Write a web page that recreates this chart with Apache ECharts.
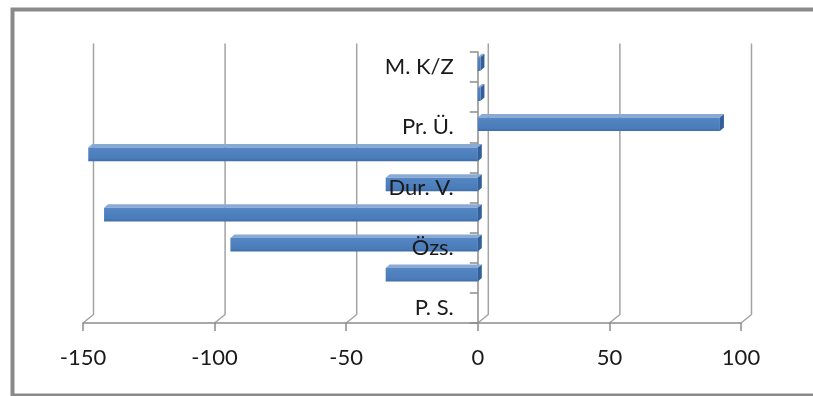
<!DOCTYPE html>
<html>
<head>
<meta charset="utf-8">
<script src="https://cdn.jsdelivr.net/npm/echarts@6/dist/echarts.min.js"></script>
<style>
  html, body { margin: 0; padding: 0; background: #ffffff; }
  #chart { width: 813px; height: 396px; }
</style>
</head>
<body>
<div id="chart"></div>
<script>
// Category names (bottom to top); only every second one is labelled on the axis
const categories = ['P. S.', '', 'Özs.', '', 'Dur. V.', '', 'Pr. Ü.', '', 'M. K/Z'];
// Bar values, same order as categories
const values = [0, -35, -94, -142, -35, -148, 92, 1, 1];
// Value axis ticks
const xTicks = [-150, -100, -50, 0, 50, 100];

// Pseudo-3D offsets: back wall and bar depth (dx, dy in pixels)
const WALL_DEPTH = [10.5, -8.5];
const BAR_DEPTH = [4, -3.5];

const AXIS_GREY = '#8c8c8c';
const FONT = 'Lato, "Open Sans", sans-serif';
const TEXT_COLOR = '#1a1a1a';

// Back-wall gridlines with the floor joint that links them to the front ticks
function renderWall(params, api) {
  const cs = params.coordSys;
  const x = api.coord([api.value(0), 0])[0];
  const bottom = cs.y + cs.height;
  const top = cs.y;
  const [dx, dy] = WALL_DEPTH;
  return {
    type: 'polyline',
    shape: { points: [[x, bottom], [x + dx, bottom + dy], [x + dx, top + dy]] },
    style: { stroke: '#a3a3a3', lineWidth: 1.5, fill: null }
  };
}

// Box-shaped bar: front face, lighter top face, darker end face
function renderBar(params, api) {
  const v = api.value(0);
  const idx = api.value(1);
  if (!v) return null;
  const p0 = api.coord([0, idx]);
  const p1 = api.coord([v, idx]);
  const band = api.size([0, 1])[1];
  const h = band * 0.45;
  const yc = p0[1] - band * 0.1;
  const yTop = yc - h / 2;
  const yBot = yc + h / 2;
  const xl = Math.min(p0[0], p1[0]);
  const xr = Math.max(p0[0], p1[0]);
  const [dx, dy] = BAR_DEPTH;
  return {
    type: 'group',
    children: [
      {
        type: 'polygon',
        shape: { points: [[xl, yTop], [xr, yTop], [xr + dx, yTop + dy], [xl + dx, yTop + dy]] },
        style: { fill: '#8aaad6' }
      },
      {
        type: 'polygon',
        shape: { points: [[xr, yTop], [xr + dx, yTop + dy], [xr + dx, yBot + dy], [xr, yBot]] },
        style: { fill: '#33609a' }
      },
      {
        type: 'rect',
        shape: { x: xl, y: yTop, width: xr - xl, height: yBot - yTop },
        style: {
          fill: {
            type: 'linear', x: 0, y: 0, x2: 0, y2: 1,
            colorStops: [
              { offset: 0, color: '#5686c4' },
              { offset: 0.8, color: '#4a7cba' },
              { offset: 1, color: '#3f6ca6' }
            ]
          }
        }
      }
    ]
  };
}

// Category names sit just left of the zero line
function renderCategoryLabel(params, api) {
  const idx = api.value(0);
  const name = categories[idx];
  if (!name) return null;
  const p = api.coord([0, idx]);
  return {
    type: 'text',
    x: p[0] - 24,
    y: p[1],
    style: {
      text: name,
      align: 'right',
      verticalAlign: 'middle',
      fontSize: 22,
      fontFamily: FONT,
      fill: TEXT_COLOR
    }
  };
}

const chart = echarts.init(document.getElementById('chart'), null, { renderer: 'canvas' });

chart.setOption({
  animation: false,
  backgroundColor: '#ffffff',
  graphic: [{
    type: 'rect',
    left: 10, top: 7,
    shape: { width: 830, height: 386 },
    style: { fill: null, stroke: '#8a8a8a', lineWidth: 4 },
    z: -10
  }],
  grid: { left: 83, right: 72, top: 52, bottom: 73, containLabel: false, outerBoundsMode: 'none' },
  xAxis: {
    type: 'value',
    min: -150, max: 100, interval: 50,
    axisLine: { show: true, lineStyle: { color: AXIS_GREY, width: 1.5 } },
    axisTick: { show: true, length: 8, lineStyle: { color: AXIS_GREY, width: 1.5 } },
    axisLabel: { margin: 24, fontSize: 22, fontFamily: FONT, color: TEXT_COLOR },
    splitLine: { show: false }
  },
  yAxis: {
    type: 'category',
    data: categories,
    axisLine: { show: true, onZero: true, lineStyle: { color: AXIS_GREY, width: 1.5 } },
    axisTick: { show: true, length: 8, interval: 0, lineStyle: { color: AXIS_GREY, width: 1.5 } },
    axisLabel: { show: false },
    splitLine: { show: false }
  },
  series: [
    {
      type: 'custom',
      name: 'wall',
      renderItem: renderWall,
      data: xTicks.map(t => [t]),
      encode: { x: 0 },
      silent: true,
      z: 0
    },
    {
      type: 'custom',
      name: 'values',
      renderItem: renderBar,
      data: values.map((v, i) => [v, i]),
      encode: { x: 0, y: 1 },
      z: 3
    },
    {
      type: 'custom',
      name: 'labels',
      renderItem: renderCategoryLabel,
      data: categories.map((c, i) => [i]),
      encode: { y: 0 },
      silent: true,
      z: 6
    }
  ]
});
</script>
</body>
</html>
